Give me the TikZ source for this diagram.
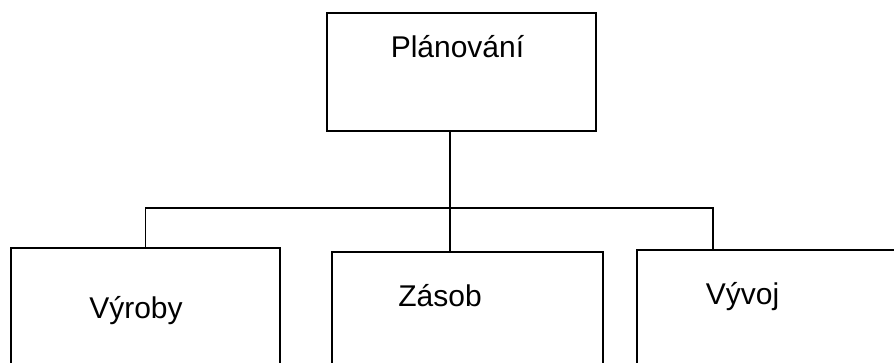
\documentclass[tikz,border=0pt]{standalone}
\usepackage{fontspec}
\setmainfont{Liberation Sans}
\usepackage{tikz}

\begin{document}
\begin{tikzpicture}
			[x=1pt,y=-1pt,line cap=rect,
			%Styles
			box/.style={draw,line width=1.6pt,inner sep=0pt,outer sep=0pt},
			box text/.style={anchor=base,inner sep=0pt,font=\fontsize{30}{36}\selectfont},
			link/.style={line width=1.6pt}
			]
			
			\useasboundingbox (0,0) rectangle (894,363);
			\clip (0,0) rectangle (894,363);
			
			%The graphic
			\node[box,minimum width=269pt,minimum height=118pt] (plan) at (461.5,72) {};
			\node[box,minimum width=269pt,minimum height=132pt] (vyr) at (145.5,314) {};
			\node[box,minimum width=271pt,minimum height=128pt] (zas) at (467.5,316) {};
			\node[box,minimum width=273pt,minimum height=130pt] (vyv) at (773.5,315) {};
			
			\node[box text] (plantext) at (457.5,58) {Plánování};
			\node[box text] (vyrtext) at (136,318) {Výroby};
			\node[box text] (zastext) at (440,307) {Zásob};
			\node[box text] (vyvtext) at (742.5,305) {Vývoj};
			
			\coordinate (mid) at (450,208);
			\coordinate (right) at (713,208);
			
			\draw[link] (mid |- plan.south) -- (mid |- zas.north);
			\draw[link] (vyr.north) |- (right) -- (right |- vyv.north);
		\end{tikzpicture}
\end{document}
